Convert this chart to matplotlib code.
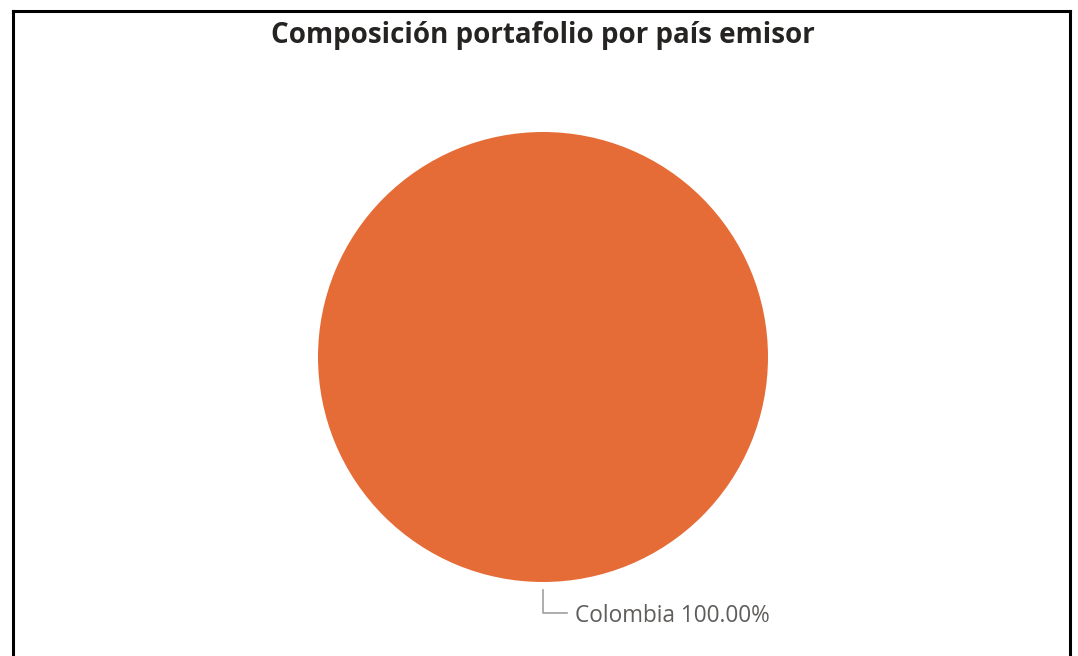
import numpy as np
import matplotlib.pyplot as plt
from matplotlib.lines import Line2D

# data
paises = ["Colombia"]
porcentajes = [100.00]
colores = ["#E66C37"]

titulo = "Composición portafolio por país emisor"

W, H = 1078, 656
fig = plt.figure(figsize=(W / 100, H / 100), dpi=100)
fig.patch.set_facecolor("white")

# frame around the visual (left, top, right) - pixel coords from top-left
for xs, ys in [([13, 13], [11, H + 5]), ([13, 1070], [11, 11]), ([1070, 1070], [11, H + 5])]:
    fig.add_artist(Line2D([x / W for x in xs], [1 - y / H for y in ys],
                          transform=fig.transFigure, color="black", lw=2.2,
                          solid_capstyle="projecting"))

fig.text(543 / W, 1 - 36 / H, titulo, ha="center", va="center",
         fontsize=20, fontweight="bold", color="#252423", family="Open Sans")

ax = fig.add_axes([318 / W, 74 / H, 450 / W, 450 / H])
wedges, _ = ax.pie(porcentajes, colors=colores, startangle=90, counterclock=False,
                   wedgeprops=dict(linewidth=0))
ax.set_xlim(-1, 1)
ax.set_ylim(-1, 1)
ax.set_aspect("equal")
ax.axis("off")

for w, nombre, p in zip(wedges, paises, porcentajes):
    ang = np.deg2rad((w.theta1 + w.theta2) / 2)
    x0, y0 = np.cos(ang), np.sin(ang)
    r1, r2 = 1.035, 1.14
    xs = [r1 * x0, r2 * x0, r2 * x0 + 0.107]
    ys = [r1 * y0, r2 * y0, r2 * y0]
    ax.plot(xs, ys, color="#A0A0A0", lw=1.2, clip_on=False)
    ax.text(xs[-1] + 0.035, ys[-1] - 0.012, f"{nombre} {p:.2f}%", ha="left", va="center",
            fontsize=16.3, color="#605E5C", family="Open Sans", clip_on=False)

fig.savefig("out.png", dpi=100)
